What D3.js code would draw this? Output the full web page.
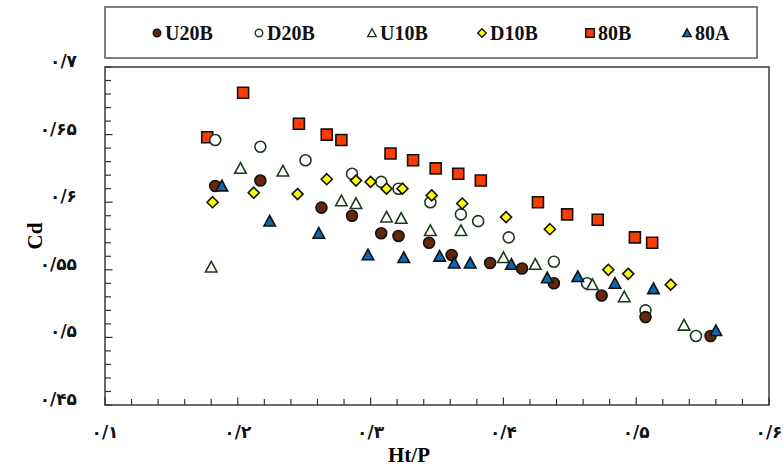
<!DOCTYPE html>
<html>
<head>
<meta charset="utf-8">
<script src="https://cdn.jsdelivr.net/npm/d3@7"></script>
<style>
  html, body { margin: 0; padding: 0; background: #fff; }
  svg { display: block; }
</style>
</head>
<body>
<svg id="chart" width="783" height="466"></svg>
<script>
// Discharge coefficient Cd against head ratio Ht/P for six weir configurations
const seriesNames = ["U20B", "D20B", "U10B", "D10B", "80B", "80A"];

const dataU20B = [[0.183,0.612],[0.217,0.616],[0.263,0.596],[0.286,0.590],[0.308,0.577],[0.321,0.575],[0.344,0.570],[0.361,0.561],[0.390,0.555],[0.414,0.551],[0.438,0.540],[0.474,0.531],[0.507,0.515],[0.556,0.501]];
const dataD20B = [[0.183,0.646],[0.217,0.641],[0.251,0.631],[0.286,0.621],[0.308,0.615],[0.321,0.610],[0.345,0.600],[0.368,0.591],[0.381,0.586],[0.404,0.574],[0.438,0.556],[0.463,0.540],[0.507,0.520],[0.545,0.501]];
const dataU10B = [[0.180,0.552],[0.202,0.625],[0.234,0.623],[0.278,0.601],[0.289,0.599],[0.312,0.589],[0.323,0.588],[0.345,0.579],[0.368,0.579],[0.400,0.559],[0.424,0.554],[0.467,0.539],[0.491,0.530],[0.536,0.509]];
const dataD10B = [[0.181,0.600],[0.212,0.607],[0.245,0.606],[0.267,0.617],[0.289,0.616],[0.300,0.615],[0.312,0.610],[0.324,0.610],[0.346,0.605],[0.369,0.599],[0.402,0.589],[0.435,0.580],[0.479,0.550],[0.494,0.547],[0.526,0.539]];
const data80B  = [[0.177,0.648],[0.204,0.681],[0.246,0.658],[0.267,0.650],[0.278,0.646],[0.315,0.636],[0.332,0.631],[0.349,0.625],[0.366,0.621],[0.383,0.616],[0.426,0.600],[0.448,0.591],[0.471,0.587],[0.499,0.574],[0.512,0.570]];
const data80A  = [[0.188,0.612],[0.224,0.586],[0.261,0.577],[0.298,0.561],[0.325,0.559],[0.352,0.560],[0.363,0.555],[0.375,0.555],[0.406,0.554],[0.433,0.544],[0.456,0.545],[0.484,0.540],[0.513,0.536],[0.560,0.505]];

const xTicks = [0.1, 0.2, 0.3, 0.4, 0.5, 0.6];
const xTickLabels = ["۰/۱", "۰/۲", "۰/۳", "۰/۴", "۰/۵", "۰/۶"];
const yTicks = [0.45, 0.5, 0.55, 0.6, 0.65, 0.7];
const yTickLabels = ["۰/۴۵", "۰/۵", "۰/۵۵", "۰/۶", "۰/۶۵", "۰/۷"];
const xTitle = "Ht/P";
const yTitle = "Cd";

// marker appearance for each series
const styles = {
  "U20B": { shape: "circle",   fill: "#642808", stroke: "#111" },
  "D20B": { shape: "circle",   fill: "#ffffff", stroke: "#1d3a1d" },
  "U10B": { shape: "triangle", fill: "#ffffff", stroke: "#1d3a1d" },
  "D10B": { shape: "diamond",  fill: "#ffff00", stroke: "#111" },
  "80B":  { shape: "square",   fill: "#ff3c00", stroke: "#111" },
  "80A":  { shape: "triangle", fill: "#0a68b4", stroke: "#111" }
};
const seriesData = { "U20B": dataU20B, "D20B": dataD20B, "U10B": dataU10B, "D10B": dataD10B, "80B": data80B, "80A": data80A };
const drawOrder = ["80B", "D20B", "U20B", "U10B", "D10B", "80A"];

const svg = d3.select("#chart");
const plot = { left: 105, top: 67, right: 769, bottom: 405 };

const x = d3.scaleLinear().domain([0.1, 0.6]).range([plot.left, plot.right]);
const y = d3.scaleLinear().domain([0.45, 0.7]).range([plot.bottom, plot.top]);

// marker path generator, centred on its bounding box
function markerPath(shape, s) {
  const h = s / 2;
  if (shape === "circle") {
    const p = d3.path(); p.arc(0, 0, h, 0, 2 * Math.PI); return p.toString();
  }
  if (shape === "square") return `M${-h},${-h}H${h}V${h}H${-h}Z`;
  if (shape === "diamond") return `M0,${-h}L${h},0L0,${h}L${-h},0Z`;
  if (shape === "triangle") return `M0,${-h}L${h},${h * 0.85}L${-h},${h * 0.85}Z`;
}
const markerSize = { circle: 11, square: 11, diamond: 11, triangle: 11.5 };

// plot frame
svg.append("rect")
  .attr("x", plot.left).attr("y", plot.top)
  .attr("width", plot.right - plot.left).attr("height", plot.bottom - plot.top)
  .attr("fill", "none").attr("stroke", "#3a3a3a").attr("stroke-width", 1.5);

// inward ticks
const xMinor = d3.range(0.1, 0.6001, 0.02);
const yMinor = d3.range(0.45, 0.7001, 0.01);
const isMajor = (v, step) => Math.abs(v / step - Math.round(v / step)) < 1e-6;

svg.append("g").selectAll("line").data(xMinor).join("line")
  .attr("x1", d => x(d)).attr("x2", d => x(d))
  .attr("y1", plot.bottom).attr("y2", d => plot.bottom - (isMajor(d, 0.1) ? 7.5 : 6))
  .attr("stroke", "#333").attr("stroke-width", 1.2);

svg.append("g").selectAll("line").data(yMinor).join("line")
  .attr("y1", d => y(d)).attr("y2", d => y(d))
  .attr("x1", plot.left).attr("x2", d => plot.left + (isMajor(d, 0.05) ? 7.5 : 6))
  .attr("stroke", "#333").attr("stroke-width", 1.2);

// tick labels
svg.append("g").selectAll("text").data(xTicks).join("text")
  .attr("x", d => x(d)).attr("y", plot.bottom + 33)
  .attr("text-anchor", "middle").attr("direction", "ltr")
  .attr("font-family", "DejaVu Sans").attr("font-size", 17).attr("font-weight", "bold")
  .attr("letter-spacing", 1).attr("fill", "#111")
  .text((d, i) => xTickLabels[i]);

svg.append("g").selectAll("text").data(yTicks).join("text")
  .attr("x", plot.left - 28).attr("y", d => y(d))
  .attr("text-anchor", "end").attr("direction", "ltr")
  .attr("font-family", "DejaVu Sans").attr("font-size", 17).attr("font-weight", "bold")
  .attr("letter-spacing", 1).attr("fill", "#111")
  .text((d, i) => yTickLabels[i]);

// axis titles
svg.append("text")
  .attr("x", 409).attr("y", 462)
  .attr("text-anchor", "middle")
  .attr("font-family", "Liberation Serif").attr("font-size", 21).attr("font-weight", "bold")
  .text(xTitle);

svg.append("text")
  .attr("transform", `translate(42, ${(plot.top + plot.bottom) / 2}) rotate(-90)`)
  .attr("text-anchor", "middle")
  .attr("font-family", "Liberation Serif").attr("font-size", 21).attr("font-weight", "bold")
  .text(yTitle);

// data markers
drawOrder.forEach(name => {
  const st = styles[name];
  svg.append("g").selectAll("path").data(seriesData[name]).join("path")
    .attr("d", markerPath(st.shape, markerSize[st.shape]))
    .attr("transform", d => `translate(${x(d[0])},${y(d[1])})`)
    .attr("fill", st.fill).attr("stroke", st.stroke).attr("stroke-width", 1.6);
});

// legend
const legend = svg.append("g");
legend.append("rect")
  .attr("x", 105).attr("y", 7).attr("width", 652).attr("height", 51)
  .attr("fill", "#fff").attr("stroke", "#555").attr("stroke-width", 1.5);
const legendX = [157, 259, 372, 482, 590, 687];
seriesNames.forEach((name, i) => {
  const st = styles[name];
  const g = legend.append("g").attr("transform", `translate(${legendX[i]},33)`);
  g.append("path").attr("d", markerPath(st.shape, st.shape === "circle" ? 7.5 : 8.5))
    .attr("fill", st.fill).attr("stroke", st.stroke).attr("stroke-width", 1.4);
  g.append("text").attr("x", 8).attr("y", 7)
    .attr("font-family", "Liberation Serif").attr("font-size", 20).attr("font-weight", "bold")
    .attr("fill", "#111")
    .text(name);
});
</script>
</body>
</html>
